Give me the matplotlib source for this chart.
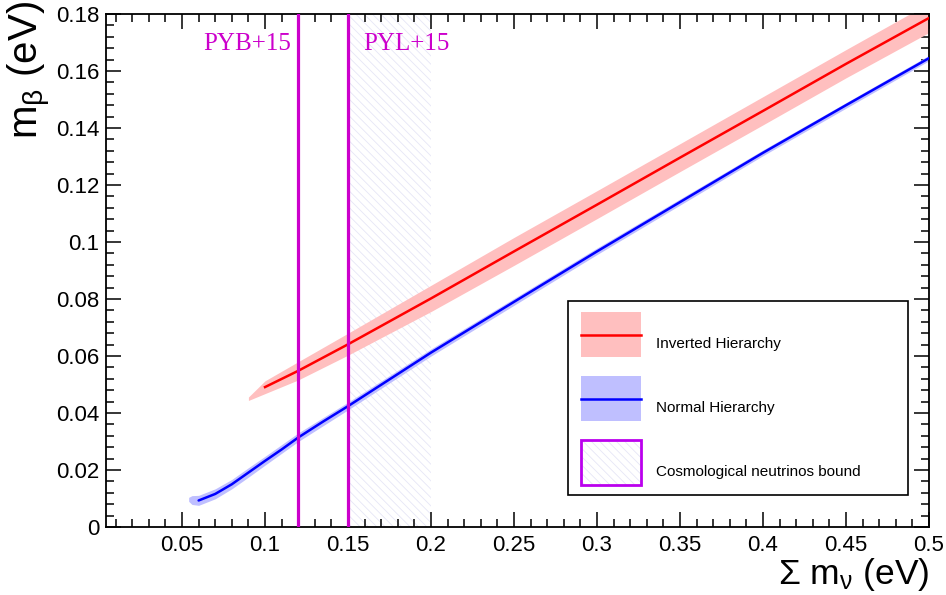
import matplotlib
matplotlib.use("Agg")
import matplotlib.pyplot as plt
from matplotlib.patches import Rectangle
from matplotlib.lines import Line2D
from matplotlib.ticker import MultipleLocator, FixedLocator, FixedFormatter

plt.rcParams['font.family'] = ['Liberation Sans', 'DejaVu Sans']
plt.rcParams['mathtext.fontset'] = 'custom'
plt.rcParams['mathtext.rm'] = 'Liberation Sans'
plt.rcParams['mathtext.it'] = 'Liberation Sans:italic'
plt.rcParams['hatch.linewidth'] = 0.6

# ---------------- data ----------------
# Inverted hierarchy central line
ih_x = [0.10, 0.12, 0.15, 0.20, 0.25, 0.30, 0.35, 0.40, 0.45, 0.50]
ih_y = [0.0491, 0.0548, 0.0641, 0.0802, 0.0967, 0.1131, 0.1296, 0.1460, 0.1625, 0.1786]
# Inverted hierarchy band
ih_band_x = [0.09, 0.10, 0.12, 0.15, 0.20, 0.25, 0.30, 0.35, 0.40, 0.45, 0.50]
ih_band_lo = [0.0444, 0.0468, 0.0516, 0.0603, 0.0756, 0.0918, 0.1082, 0.1247, 0.1411, 0.1576, 0.1735]
ih_band_hi = [0.0456, 0.0513, 0.0580, 0.0680, 0.0848, 0.1016, 0.1180, 0.1345, 0.1510, 0.1675, 0.1838]
# Normal hierarchy central line
nh_x = [0.06, 0.07, 0.08, 0.09, 0.10, 0.11, 0.12, 0.135, 0.15, 0.20, 0.25, 0.30, 0.35, 0.40, 0.45, 0.50]
nh_y = [0.0093, 0.0116, 0.0150, 0.0191, 0.0232, 0.0272, 0.0314, 0.0370, 0.0424, 0.0612, 0.0790,
        0.0967, 0.1140, 0.1313, 0.1480, 0.1645]
# Normal hierarchy band
nh_band_x = [0.054, 0.056, 0.06, 0.07, 0.08, 0.09, 0.10, 0.12, 0.15, 0.20, 0.30, 0.40, 0.50]
nh_band_lo = [0.0090, 0.0079, 0.0076, 0.0099, 0.0134, 0.0175, 0.0217, 0.0300, 0.0411, 0.0600, 0.0956, 0.1303, 0.1636]
nh_band_hi = [0.0104, 0.0110, 0.0111, 0.0134, 0.0167, 0.0208, 0.0248, 0.0330, 0.0438, 0.0625, 0.0979, 0.1323, 0.1655]
# Cosmological bounds
bound_pyb = 0.12
bound_pyl = 0.15
bound_region = [0.15, 0.20]
bound_labels = ["PYB+15", "PYL+15"]

x_ticks = [0.05, 0.10, 0.15, 0.20, 0.25, 0.30, 0.35, 0.40, 0.45, 0.50]
x_ticklabels = ["0.05", "0.1", "0.15", "0.2", "0.25", "0.3", "0.35", "0.4", "0.45", "0.5"]
y_ticks = [0.0, 0.02, 0.04, 0.06, 0.08, 0.10, 0.12, 0.14, 0.16, 0.18]
y_ticklabels = ["0", "0.02", "0.04", "0.06", "0.08", "0.1", "0.12", "0.14", "0.16", "0.18"]

legend_labels = ["Inverted Hierarchy", "Normal Hierarchy", "Cosmological neutrinos bound"]

# ---------------- figure ----------------
W, H = 946, 595
fig = plt.figure(figsize=(W / 100, H / 100), dpi=100)
ax = fig.add_axes([106 / W, 1 - 527 / H, (929 - 106) / W, (527 - 14) / H])
ax.set_xlim(0.0042, 0.5)
ax.set_ylim(0, 0.18)

magenta = '#cc00cc'
pink = '#ffbfbf'
lblue = '#bfbfff'
hatch_col = '#e6e6f6'

# hatched region
ax.axvspan(bound_region[0], bound_region[1], facecolor='none', edgecolor=hatch_col,
           hatch='\\\\\\\\', linewidth=0, zorder=1)

# bands
ax.fill_between(ih_band_x, ih_band_lo, ih_band_hi, color=pink, linewidth=0, zorder=2)
ax.fill_between(nh_band_x, nh_band_lo, nh_band_hi, color=lblue, linewidth=0, zorder=2)
# central lines
ax.plot(ih_x, ih_y, color='#ff0000', lw=1.8, zorder=3)
ax.plot(nh_x, nh_y, color='#0000ff', lw=1.8, solid_capstyle='round', zorder=3)

# bound lines
ax.axvline(bound_pyb, color=magenta, lw=2.3, zorder=4)
ax.axvline(bound_pyl, color=magenta, lw=2.3, zorder=4)
ax.text(bound_pyb - 0.0043, 0.1673, bound_labels[0], color=magenta, ha='right', va='baseline',
        fontsize=18, family=['Liberation Serif', 'DejaVu Serif'])
ax.text(bound_pyl + 0.0093, 0.1673, bound_labels[1], color=magenta, ha='left', va='baseline',
        fontsize=18, family=['Liberation Serif', 'DejaVu Serif'])

# ticks ROOT style
ax.xaxis.set_major_locator(FixedLocator(x_ticks))
ax.xaxis.set_major_formatter(FixedFormatter(x_ticklabels))
ax.yaxis.set_major_locator(FixedLocator(y_ticks))
ax.yaxis.set_major_formatter(FixedFormatter(y_ticklabels))
ax.xaxis.set_minor_locator(MultipleLocator(0.01))
ax.yaxis.set_minor_locator(MultipleLocator(0.004))
ax.tick_params(which='both', direction='in', top=True, right=True, width=1.1, color='black')
ax.tick_params(which='major', length=10.5, labelsize=16)
ax.tick_params(which='minor', length=5.5)
ax.tick_params(axis='x', which='major', pad=6)
ax.tick_params(axis='y', which='major', pad=5)
for s in ax.spines.values():
    s.set_linewidth(1.3)

ax.set_xlabel("Σ m$_\\mathregular{ν}$ (eV)", fontsize=25.5, loc='right')
ax.xaxis.set_label_coords(1.0, -0.056)
ax.set_ylabel("m$_\\mathregular{β}$ (eV)", fontsize=29, loc='top')
ax.yaxis.set_label_coords(-0.064, 1.025)

# ---------------- legend (drawn manually, ROOT style) ----------------
def fx(px):
    return px / W

def fy(py):
    return 1 - py / H

fig.add_artist(Rectangle((fx(568), fy(495)), fx(908) - fx(568), fy(301) - fy(495),
                         transform=fig.transFigure, facecolor='white', edgecolor='black',
                         linewidth=1.2, zorder=10))
rows = [(312, 357), (376, 421), (440, 485)]
# IH entry
r = rows[0]
fig.add_artist(Rectangle((fx(581), fy(r[1])), fx(641) - fx(581), fy(r[0]) - fy(r[1]),
                         transform=fig.transFigure, facecolor=pink, edgecolor='none', zorder=11))
fig.add_artist(Line2D([fx(581), fx(641)], [fy((r[0] + r[1]) / 2)] * 2, transform=fig.transFigure,
                      color='#ff0000', lw=1.8, zorder=12))
# NH entry
r = rows[1]
fig.add_artist(Rectangle((fx(581), fy(r[1])), fx(641) - fx(581), fy(r[0]) - fy(r[1]),
                         transform=fig.transFigure, facecolor=lblue, edgecolor='none', zorder=11))
fig.add_artist(Line2D([fx(581), fx(641)], [fy((r[0] + r[1]) / 2)] * 2, transform=fig.transFigure,
                      color='#0000ff', lw=1.8, zorder=12))
# bound entry
r = rows[2]
fig.add_artist(Rectangle((fx(581), fy(r[1])), fx(641) - fx(581), fy(r[0]) - fy(r[1]),
                         transform=fig.transFigure, facecolor='white', edgecolor=hatch_col,
                         hatch='\\\\\\\\', linewidth=0, zorder=11))
fig.add_artist(Rectangle((fx(581), fy(r[1])), fx(641) - fx(581), fy(r[0]) - fy(r[1]),
                         transform=fig.transFigure, facecolor='none', edgecolor='#bb00ee',
                         linewidth=2.0, zorder=12))
for (r0, r1), lab in zip(rows, legend_labels):
    fig.text(fx(656), fy(r1 - 9), lab, fontsize=11, ha='left', va='baseline', zorder=12)

fig.savefig("out.png", dpi=100)
